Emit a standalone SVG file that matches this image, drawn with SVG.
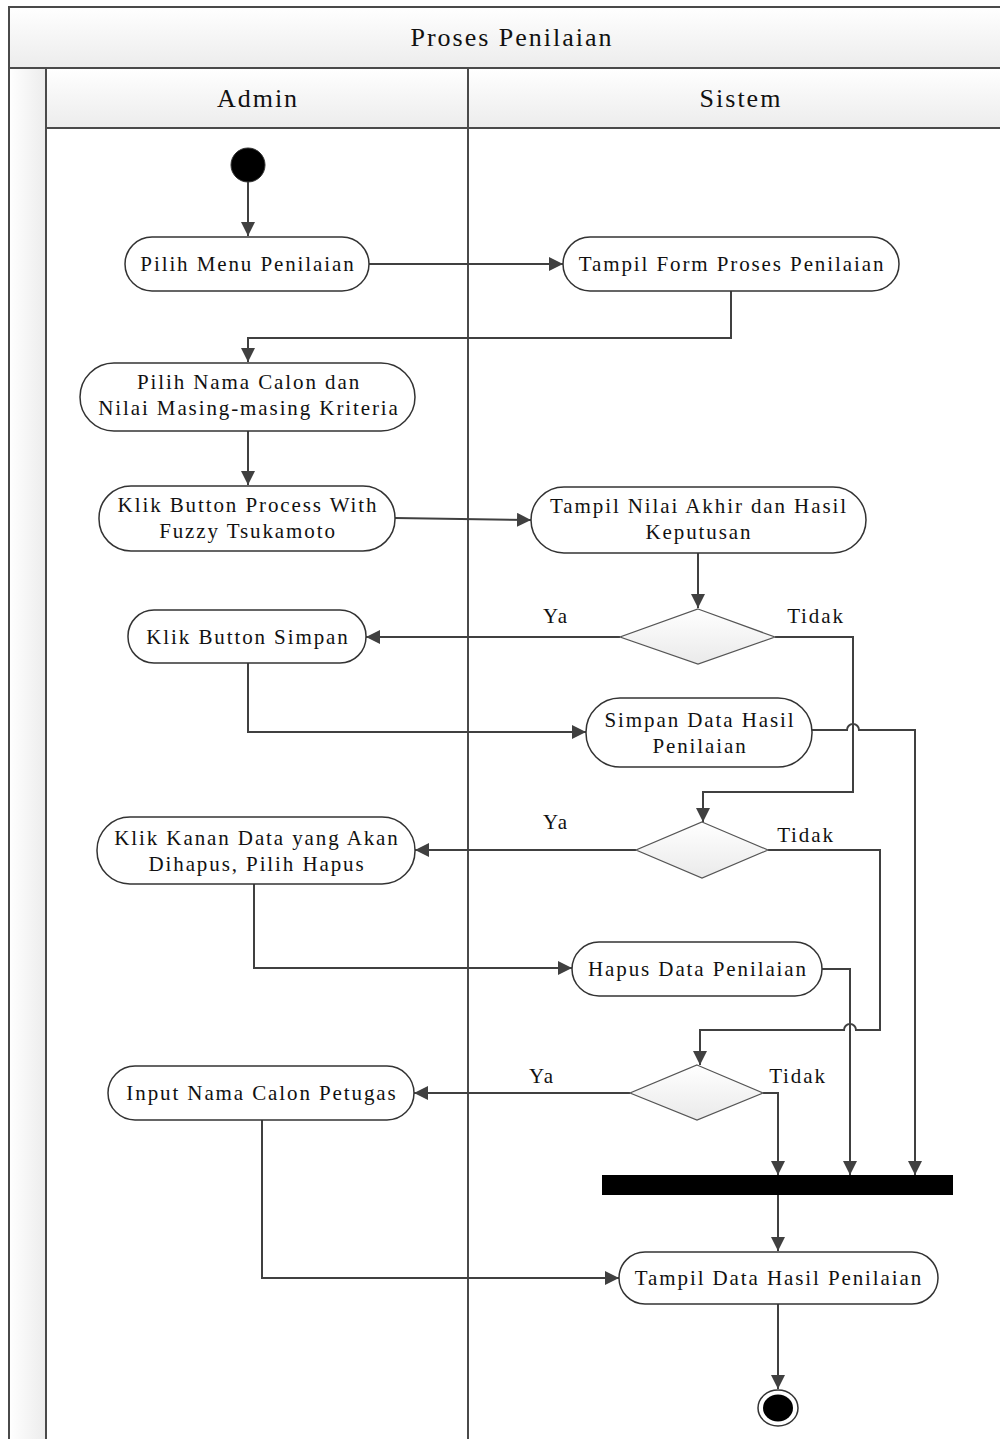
<svg xmlns="http://www.w3.org/2000/svg" width="1000" height="1439" viewBox="0 0 1000 1439">
<defs>
<linearGradient id="hdr" x1="0" y1="0" x2="0" y2="1"><stop offset="0" stop-color="#ffffff"/><stop offset="1" stop-color="#ececec"/></linearGradient>
<linearGradient id="strip" x1="0" y1="0" x2="1" y2="0"><stop offset="0" stop-color="#ffffff"/><stop offset="1" stop-color="#ececec"/></linearGradient>
<linearGradient id="dia" x1="0" y1="0" x2="0" y2="1"><stop offset="0" stop-color="#ffffff"/><stop offset="1" stop-color="#eaeaea"/></linearGradient>
<marker id="ah" viewBox="0 0 14 14" refX="14" refY="7" markerWidth="14" markerHeight="14" markerUnits="userSpaceOnUse" orient="auto"><path d="M0,0 L14,7 L0,14 z" fill="#404040"/></marker>
</defs>
<style>
.frame{fill:none;stroke:#4a4a4a;stroke-width:2}
.act{fill:#ffffff;stroke:#333333;stroke-width:1.5}
.dec{fill:url(#dia);stroke:#555555;stroke-width:1.2}
.t{font-family:"Liberation Serif","Tinos","Times New Roman","DejaVu Serif",serif;font-size:21px;fill:#111;text-anchor:middle;letter-spacing:1.9px}
.h{font-family:"Liberation Serif","Tinos","Times New Roman","DejaVu Serif",serif;font-size:26px;fill:#111;text-anchor:middle;letter-spacing:2px}
.c{fill:none;stroke:#404040;stroke-width:2}
.ca{fill:none;stroke:#404040;stroke-width:2;marker-end:url(#ah)}
</style>
<rect x="0" y="0" width="1000" height="1439" fill="#ffffff"/>
<g id="pool">
<rect x="9" y="7" width="1000" height="61" fill="url(#hdr)"/>
<rect x="9" y="68" width="37" height="1380" fill="url(#strip)"/>
<rect x="46" y="68" width="1000" height="60" fill="url(#hdr)"/>
<path class="frame" d="M9,1445 V7 H1005"/>
<path class="frame" d="M9,68 H1005"/>
<path class="frame" d="M46,128 H1005"/>
<path class="frame" d="M46,68 V1445"/>
<path class="frame" d="M468,68 V1445"/>
<text class="h" x="512" y="46">Proses Penilaian</text>
<text class="h" x="258" y="107">Admin</text>
<text class="h" x="741" y="107">Sistem</text>
</g>
<g id="connectors">
<path class="ca" d="M248,182 V236"/>
<path class="ca" d="M369,264 H563"/>
<path class="ca" d="M731,291 V338 H248 V362"/>
<path class="ca" d="M248,431 V485"/>
<path class="ca" d="M395,518 L531,520"/>
<path class="ca" d="M698,553 V608"/>
<path class="ca" d="M620,637 H366"/>
<path class="ca" d="M775,637 H853 V792 H703 V822"/>
<path class="ca" d="M248,663 V732 H586"/>
<path class="ca" d="M812,730 H847 A6,6 0 0 1 859,730 H915 V1175"/>
<path class="ca" d="M636,850 H415"/>
<path class="ca" d="M768,850 H880 V1030 H856 A6,6 0 0 0 844,1030 H700 V1065"/>
<path class="ca" d="M254,884 V968 H572"/>
<path class="ca" d="M822,969 H850 V1175"/>
<path class="ca" d="M630,1093 H414"/>
<path class="ca" d="M763,1093 H778 V1175"/>
<path class="ca" d="M778,1195 V1251"/>
<path class="ca" d="M262,1120 V1278 H619"/>
<path class="ca" d="M778,1304 V1389"/>
<text class="t" x="556" y="623">Ya</text>
<text class="t" x="816" y="623">Tidak</text>
<text class="t" x="556" y="829">Ya</text>
<text class="t" x="806" y="842">Tidak</text>
<text class="t" x="542" y="1083">Ya</text>
<text class="t" x="798" y="1083">Tidak</text>
</g>
<g id="start"><circle cx="248" cy="165" r="17" fill="#000" stroke="#333" stroke-width="1"/></g>
<g id="n1"><rect class="act" x="125" y="237" width="244" height="54" rx="27"/><text class="t" x="248" y="271">Pilih Menu Penilaian</text></g>
<g id="n2"><rect class="act" x="563" y="237" width="336" height="54" rx="27"/><text class="t" x="732" y="271">Tampil Form Proses Penilaian</text></g>
<g id="n3"><rect class="act" x="80" y="363" width="335" height="68" rx="34"/><text class="t" x="249" y="389">Pilih Nama Calon dan</text><text class="t" x="249" y="415">Nilai Masing-masing Kriteria</text></g>
<g id="n4"><rect class="act" x="99" y="486" width="296" height="65" rx="32"/><text class="t" x="248" y="512">Klik Button Process With</text><text class="t" x="248" y="538">Fuzzy Tsukamoto</text></g>
<g id="n5"><rect class="act" x="531" y="487" width="335" height="66" rx="33"/><text class="t" x="699" y="513">Tampil Nilai Akhir dan Hasil</text><text class="t" x="699" y="539">Keputusan</text></g>
<g id="d1"><polygon class="dec" points="698,609 775,637 698,664 620,637"/></g>
<g id="n6"><rect class="act" x="128" y="610" width="238" height="53" rx="26"/><text class="t" x="248" y="644">Klik Button Simpan</text></g>
<g id="n7"><rect class="act" x="586" y="698" width="226" height="69" rx="34"/><text class="t" x="700" y="727">Simpan Data Hasil</text><text class="t" x="700" y="753">Penilaian</text></g>
<g id="d2"><polygon class="dec" points="702,822 768,850 702,878 636,850"/></g>
<g id="n8"><rect class="act" x="97" y="817" width="318" height="67" rx="33"/><text class="t" x="257" y="845">Klik Kanan Data yang Akan</text><text class="t" x="257" y="871">Dihapus, Pilih Hapus</text></g>
<g id="n9"><rect class="act" x="572" y="942" width="250" height="54" rx="27"/><text class="t" x="698" y="976">Hapus Data Penilaian</text></g>
<g id="d3"><polygon class="dec" points="697,1065 763,1093 697,1120 630,1093"/></g>
<g id="n10"><rect class="act" x="108" y="1066" width="306" height="54" rx="27"/><text class="t" x="262" y="1100">Input Nama Calon Petugas</text></g>
<g id="fork"><rect x="602" y="1175" width="351" height="20" fill="#000"/></g>
<g id="n11"><rect class="act" x="619" y="1252" width="319" height="52" rx="26"/><text class="t" x="779" y="1285">Tampil Data Hasil Penilaian</text></g>
<g id="end"><ellipse cx="778" cy="1408" rx="20" ry="18" fill="#fff" stroke="#333" stroke-width="1.5"/><ellipse cx="778" cy="1408" rx="15" ry="13.5" fill="#000"/></g>
</svg>
